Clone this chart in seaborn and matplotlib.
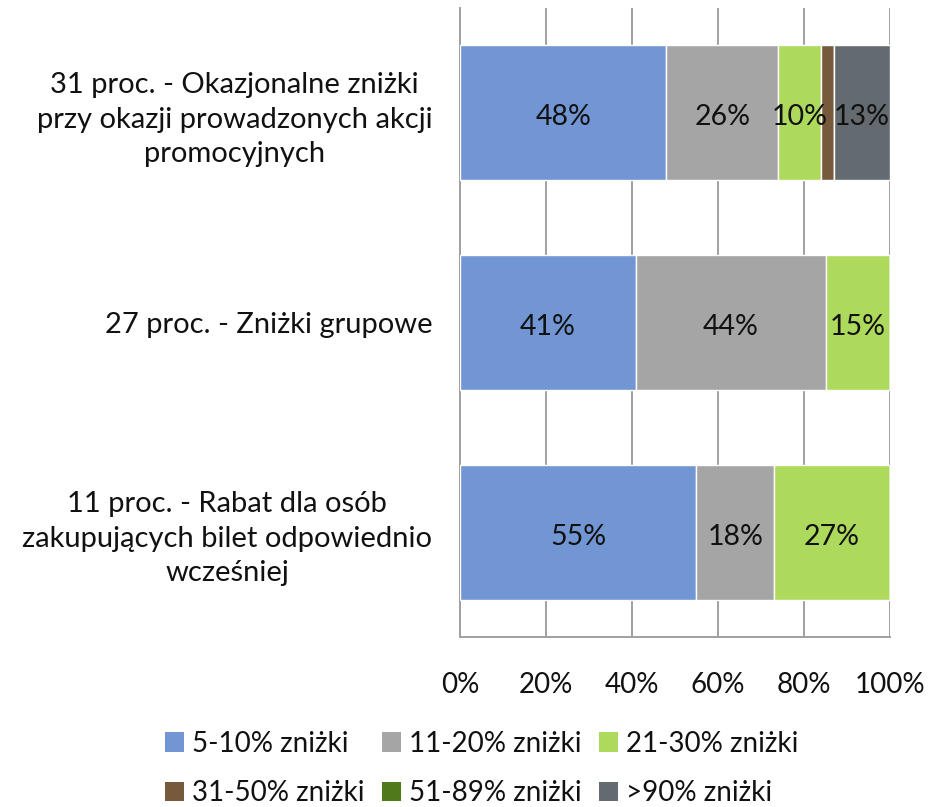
import pandas as pd
import matplotlib.pyplot as plt
import seaborn as sns
from matplotlib.patches import Patch
from matplotlib.ticker import PercentFormatter

# dane
kategorie = [
    "31 proc. - Okazjonalne zniżki\nprzy okazji prowadzonych akcji\npromocyjnych",
    "27 proc. - Zniżki grupowe",
    "11 proc. - Rabat dla osób\nzakupujących bilet odpowiednio\nwcześniej",
]
serie = ["5-10% zniżki", "11-20% zniżki", "21-30% zniżki",
         "31-50% zniżki", "51-89% zniżki", ">90% zniżki"]
v_5_10 = [48, 41, 55]
v_11_20 = [26, 44, 18]
v_21_30 = [10, 15, 27]
v_31_50 = [3, 0, 0]
v_51_89 = [0, 0, 0]
v_90 = [13, 0, 0]
kolory = ["#7196D3", "#A5A5A5", "#ADD95C", "#775A3B", "#4E7A1A", "#636B71"]

wartosci = [v_5_10, v_11_20, v_21_30, v_31_50, v_51_89, v_90]

sns.set_theme(style="white")
plt.rcParams['font.family'] = ['Lato', 'DejaVu Sans']
plt.rcParams['text.color'] = '#111111'

fig = plt.figure(figsize=(9.3, 8.07), dpi=100)
ax = fig.add_axes([0.4946, 0.2107, 0.4624, 0.7793])

lewo = [0, 0, 0]
for nazwa, vals, kol in zip(serie, wartosci, kolory):
    df = pd.DataFrame({'kat': kategorie, 'val': vals})
    sns.barplot(data=df, y='kat', x='val', color=kol, left=lewo,
                width=0.645, saturation=1, ax=ax, orient='h', zorder=3)
    for i, v in enumerate(vals):
        if v >= 10:
            ax.text(lewo[i] + v / 2, i + 0.022, f"{v}%", ha='center', va='center',
                    fontsize=20.5, color='#111111', zorder=4)
    lewo = [a + b for a, b in zip(lewo, vals)]

ax.set_xlim(0, 100)
ax.set_ylim(2.5, -0.5)
ax.set_xticks([0, 20, 40, 60, 80, 100])
ax.xaxis.set_major_formatter(PercentFormatter(decimals=0))
ax.grid(axis='x', color='#A0A0A0', linewidth=1.4, zorder=0)
ax.set_xlabel('')
ax.set_ylabel('')
for s in ['top', 'right']:
    ax.spines[s].set_visible(False)
for s in ['left', 'bottom']:
    ax.spines[s].set_color('#A0A0A0')
    ax.spines[s].set_linewidth(1.4)
ax.tick_params(axis='x', length=0, pad=25, labelsize=20, labelcolor='#111111')
ax.tick_params(axis='y', length=0, pad=20, labelsize=21, labelcolor='#111111')
for t in ax.get_yticklabels():
    t.set_multialignment('center')
    t.set_linespacing(1.4)

uchwyty = [Patch(facecolor=k, edgecolor='none', label=n) for n, k in zip(serie, kolory)]
kolejnosc = [0, 3, 1, 4, 2, 5]
fig.legend([uchwyty[i] for i in kolejnosc], [serie[i] for i in kolejnosc],
           loc='lower center', bbox_to_anchor=(0.518, -0.03), ncol=3, frameon=False,
           fontsize=20, handlelength=0.7, handleheight=0.7, handletextpad=0.3,
           columnspacing=0.6, labelspacing=0.85)

fig.savefig('out.png', dpi=100)
